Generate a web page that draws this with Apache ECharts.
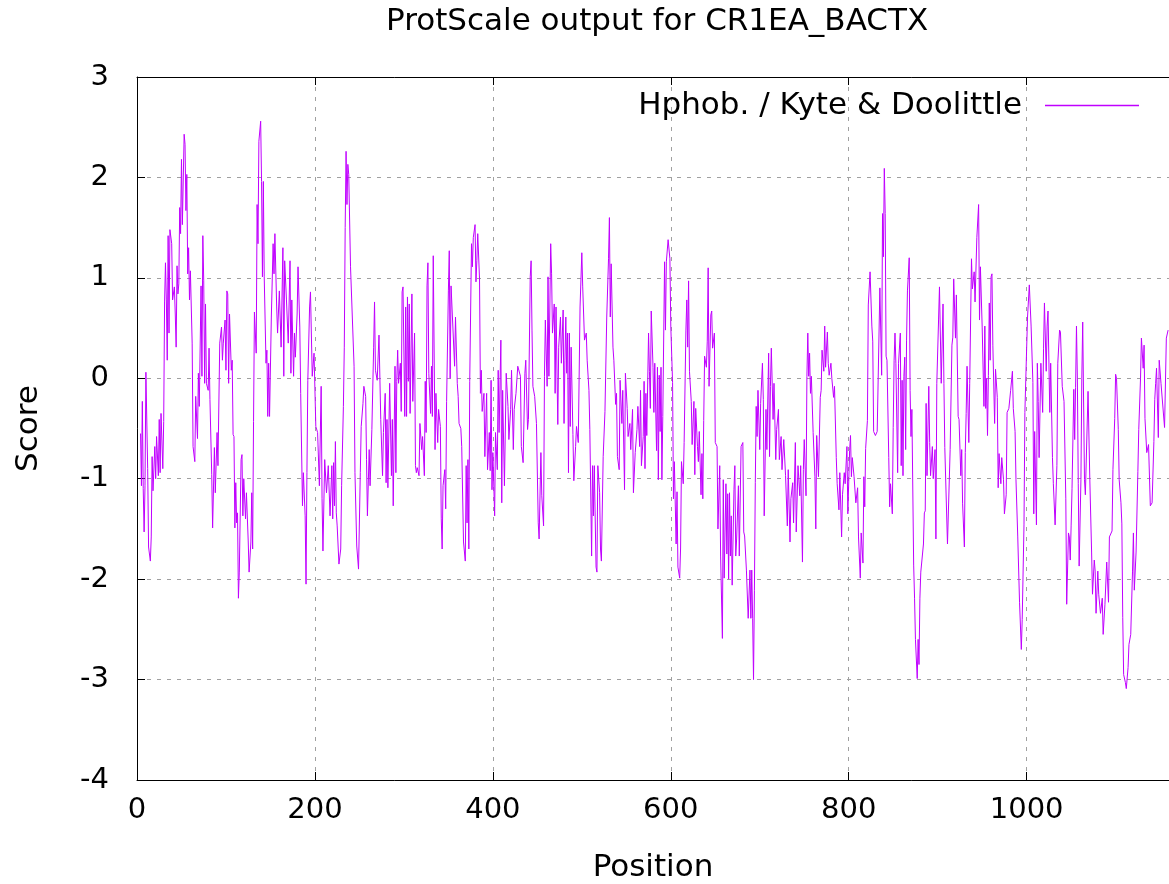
<!DOCTYPE html>
<html><head><meta charset="utf-8">
<script src="https://cdn.jsdelivr.net/npm/echarts@6/dist/echarts.min.js"></script>
<style>html,body{margin:0;padding:0;background:#fff}#c{width:1169px;height:884px}</style>
</head><body><div id="c"></div>
<script>
const chartTitle = 'ProtScale output for CR1EA_BACTX';
const seriesName = 'Hphob. / Kyte & Doolittle';
const xAxisName = 'Position';
const yAxisName = 'Score';
const xRange = [0, 1160];
const yRange = [-4, 3];

// [position, score], in 12 position slices
const seg01 = [[4,-0.55],[5,-1.07],[6,-0.23],[7,-1.1],[8,-1.53],[9,-1.07],[10,0.06],[11,0.06],[12,-0.9],[13,-1.68],[15,-1.82],[16,-1.58],[17,-0.78],[18,-1.12],[20,-0.68],[21,-1.0],[22,-0.58],[24,-0.97],[25,-0.41],[26,-0.94],[27,-0.35],[29,-0.9],[30,-0.43],[31,0.76],[32,1.15],[33,0.78],[34,0.18],[35,1.42],[36,0.45],[37,1.48],[39,1.34],[40,0.78],[42,0.91],[43,0.64],[44,0.31],[45,1.12],[46,0.84],[47,0.94],[48,1.7],[49,1.44],[50,2.18],[51,1.53],[53,2.43],[54,2.33],[55,1.67],[56,2.03],[57,1.04],[58,1.3],[59,0.78],[60,1.07],[62,0.35],[63,-0.68],[65,-0.83],[66,-0.18],[68,-0.6],[69,0.05],[70,-0.28],[72,0.92],[73,0.02],[74,1.42],[75,0.97],[76,-0.05],[77,0.74],[78,-0.05],[80,-0.12],[81,0.3],[82,-0.21],[84,-0.96],[85,-1.49],[87,-0.69],[88,-1.14],[90,-0.54],[91,-0.87],[93,0.35]];
const seg02 = [[95,0.51],[96,0.18],[97,0.35],[99,0.58],[100,0.08],[101,0.87],[102,0.84],[103,-0.05],[104,0.64],[106,0.08],[107,0.18],[108,-0.56],[109,-0.58],[110,-1.49],[111,-1.04],[112,-1.44],[113,-1.34],[114,-2.19],[115,-1.93],[117,-0.81],[118,-0.76],[119,-1.37],[120,-1.0],[122,-1.4],[123,-1.14],[125,-1.62],[126,-1.93],[128,-1.63],[129,-1.14],[130,-1.7],[131,-0.43],[132,0.66],[134,0.25],[135,1.73],[136,1.34],[137,2.36],[139,2.56],[140,1.96],[141,1.01],[142,1.96],[143,1.01],[145,0.15],[146,0.28],[147,-0.38],[148,0.15],[149,-0.38],[151,0.61],[153,1.34],[154,1.04],[155,1.44],[157,0.71],[158,0.45],[160,0.87],[162,0.31],[164,1.3],[165,0.02],[166,1.17],[168,0.78],[170,0.35],[172,1.17],[173,0.05],[174,0.78],[176,0.02],[177,0.45],[178,0.21],[180,0.64],[181,1.11],[183,0.51],[184,-0.15],[186,-1.27],[187,-0.94],[189,-1.37],[190,-2.05],[191,-0.94],[192,-0.02],[194,0.71]];
const seg03 = [[195,0.86],[197,0.02],[199,0.25],[201,-0.48],[203,-0.54],[205,-1.07],[207,-0.08],[208,-1.2],[209,-1.72],[211,-0.81],[213,-1.14],[215,-0.87],[217,-1.37],[219,-0.87],[220,-1.4],[221,-0.84],[222,-1.27],[223,-0.63],[224,-1.34],[225,-1.47],[227,-1.85],[229,-1.7],[230,-1.07],[232,-0.28],[233,0.31],[234,1.5],[235,2.26],[236,1.73],[237,2.13],[238,2.03],[240,1.11],[242,1.11],[244,0.12],[245,-0.94],[247,-1.67],[249,-1.9],[251,-0.94],[252,-0.48],[254,-0.25],[255,-0.08],[257,-0.18],[258,-0.81],[259,-1.37],[261,-0.71],[262,-1.07],[264,-0.51],[266,0.31],[267,0.76],[268,0.08],[270,-0.02],[272,0.43],[274,-0.41],[276,-0.97],[277,-0.54],[279,-0.15],[280,-1.04],[281,-0.41],[282,-1.09],[284,-0.05],[286,-0.97],[287,-0.41],[288,-1.27],[290,0.12]];
const seg04 = [[291,-0.94],[292,-0.03],[293,0.28],[294,-0.05],[296,0.15],[297,-0.33],[298,0.86],[299,0.91],[301,-0.38],[302,0.71],[303,-0.38],[304,0.81],[305,-0.03],[306,0.74],[307,-0.35],[309,0.84],[310,-0.23],[312,0.45],[313,-0.87],[314,-0.94],[315,-0.89],[317,-0.97],[318,-0.45],[320,-0.71],[321,-0.58],[323,-0.97],[324,-0.03],[325,-0.54],[326,0.92],[327,1.15],[328,0.05],[330,-0.35],[331,0.12],[332,-0.38],[333,1.22],[335,-0.71],[336,-0.15],[338,-0.64],[339,-0.31],[341,-0.48],[342,-1.4],[343,-1.7],[344,-1.07],[346,-0.91],[347,-1.3],[348,-0.23],[350,0.87],[351,1.27],[352,0.0],[353,0.92],[355,0.91],[357,0.12],[358,0.61],[360,-0.05],[361,-0.18],[362,-0.45],[363,-0.45],[364,-0.5],[365,-0.68],[367,-1.63],[369,-1.82],[370,-0.87],[371,-1.44],[372,-0.81],[373,-1.7],[374,-0.03],[376,1.34],[377,1.11],[378,1.4],[380,1.53],[381,0.96],[382,1.17],[383,1.44],[385,0.99]];
const seg05 = [[386,-0.15],[387,0.08],[388,-0.33],[390,-0.15],[391,-0.78],[393,-0.15],[394,-0.91],[396,-0.54],[397,-0.92],[398,-0.02],[399,-1.11],[400,-0.74],[402,-1.37],[403,-0.54],[405,-0.91],[406,0.08],[407,-0.54],[409,0.38],[410,-1.24],[411,-0.12],[413,-1.07],[415,0.05],[417,-0.28],[418,-0.61],[420,-0.31],[421,0.08],[423,-0.71],[424,-0.31],[426,-0.15],[428,0.12],[429,0.12],[431,0.02],[432,-0.68],[434,-0.84],[436,0.05],[437,0.18],[439,-0.51],[440,-0.41],[442,1.01],[443,1.17],[444,0.48],[445,-0.08],[447,-0.18],[449,-0.45],[451,-1.44],[452,-1.6],[454,-0.74],[455,-1.17],[457,-1.47],[458,0.02],[459,0.58],[461,-0.08],[462,1.01],[463,0.02],[465,1.34],[466,1.04],[467,0.45],[469,0.74],[470,-0.15],[471,0.71],[473,-0.46],[474,0.31],[476,0.61],[477,0.15],[479,0.68]];
const seg06 = [[480,-0.45],[481,0.18],[482,0.61],[483,0.05],[484,0.45],[485,-0.94],[486,0.45],[487,-0.48],[488,0.31],[490,-0.56],[491,-1.02],[493,-0.68],[494,-0.48],[496,-0.64],[498,0.71],[500,1.25],[501,0.91],[503,0.38],[505,0.45],[506,0.18],[508,-0.12],[509,-0.51],[511,-1.77],[512,-0.87],[513,-1.37],[514,-0.87],[516,-1.88],[517,-1.93],[518,-0.87],[520,-1.14],[521,-1.7],[522,-1.82],[524,-0.78],[526,-0.33],[528,0.61],[530,1.19],[531,1.6],[532,0.61],[533,1.14],[535,0.31],[536,0.18],[538,-0.26],[539,-0.15],[540,-0.78],[542,-0.91],[543,-0.02],[545,-0.45],[546,-0.12],[548,-1.11],[549,0.05],[551,-0.3],[552,-0.58],[554,-0.45],[555,-0.71],[557,-0.31],[558,-1.14],[560,-0.74],[562,-0.51],[563,-0.28],[565,-0.68],[566,-0.12],[567,-0.87],[569,-0.58],[570,-0.03]];
const seg07 = [[571,-0.9],[572,-0.15],[573,-0.57],[575,0.45],[576,0.07],[577,-0.3],[578,0.67],[580,0.11],[581,-0.34],[582,0.15],[584,-0.72],[585,0.11],[586,-1.01],[587,0.03],[588,-0.53],[589,0.11],[590,-1.01],[591,-0.38],[593,1.16],[594,0.48],[595,1.16],[597,1.38],[599,1.19],[600,0.52],[602,-0.04],[603,-1.2],[604,-0.83],[606,-1.65],[607,-1.13],[608,-1.88],[610,-1.99],[611,-1.69],[612,-0.83],[614,-1.05],[615,-0.64],[617,0.48],[618,0.78],[619,0.31],[620,0.97],[621,0.07],[623,-0.23],[624,-0.66],[626,-0.23],[627,-0.96],[628,-0.3],[630,-0.68],[631,-0.83],[632,-0.53],[634,-1.16],[635,-0.75],[636,-1.2],[637,-0.42],[638,0.22],[640,0.11],[641,0.37],[642,1.1],[643,-0.08],[645,0.63],[646,0.67],[647,0.3],[649,0.45],[650,-0.64],[652,-0.68],[653,-1.5],[655,-0.87],[656,-1.77],[658,-2.59],[659,-1.01],[660,-1.99],[662,-1.05],[663,-1.75],[664,-1.15],[665,-2.0]];
const seg08 = [[666,-1.14],[667,-1.77],[668,-1.37],[669,-2.06],[671,-1.11],[672,-0.87],[673,-1.77],[674,-1.6],[676,-1.07],[677,-1.77],[679,-0.68],[681,-0.64],[682,-1.53],[683,-1.57],[685,-1.91],[687,-2.39],[689,-1.91],[690,-2.39],[691,-1.91],[692,-2.39],[693,-3.0],[694,-2.11],[695,-1.04],[696,-0.28],[697,-0.58],[698,-0.12],[700,-0.71],[701,-0.25],[703,0.15],[704,-0.21],[705,-1.37],[707,-0.31],[708,-0.71],[710,0.25],[711,-0.78],[712,-0.08],[713,0.3],[715,-0.41],[716,-0.05],[718,-0.81],[719,-0.51],[721,-0.31],[722,-0.81],[724,-0.58],[725,-0.91],[727,-0.61],[729,-0.97],[731,-1.47],[732,-0.91],[734,-1.63],[735,-1.2],[737,-1.04],[738,-1.44],[740,-0.64],[741,-1.53],[743,-0.87],[745,-1.17],[746,-0.87],[748,-1.83],[749,-0.91],[750,-0.61],[752,-1.17],[753,0.02],[754,0.45],[755,0.02],[756,0.25],[757,-0.15],[758,0.02],[760,-0.54]];
const seg09 = [[762,-0.98],[763,-1.5],[764,-0.57],[766,-0.98],[768,-0.19],[769,-0.12],[770,0.28],[772,0.07],[773,0.52],[774,0.11],[776,0.46],[777,0.15],[778,0.03],[780,0.15],[781,0.0],[783,-0.19],[784,-0.08],[786,-0.79],[787,-1.05],[789,-1.31],[790,-0.94],[792,-1.58],[793,-1.16],[795,-0.94],[796,-1.05],[798,-0.68],[799,-1.35],[801,-0.72],[802,-0.57],[803,-0.98],[804,-0.79],[806,-0.98],[808,-1.24],[810,-1.09],[811,-1.58],[813,-1.99],[814,-1.54],[816,-1.84],[817,-0.98],[818,-1.28],[819,-0.7],[821,-0.42],[822,0.73],[824,1.06],[826,0.52],[827,0.37],[828,-0.53],[830,-0.57],[832,-0.53],[835,0.9],[837,0.03],[838,1.64],[839,1.21],[840,2.09],[841,1.64],[842,0.22],[843,0.18],[845,-0.79],[846,-1.28],[847,-1.05],[849,-1.35],[850,-0.49],[851,0.18],[852,0.45],[853,0.15],[855,-0.94],[856,0.15]];
const seg10 = [[858,0.45],[859,-0.87],[860,-0.02],[861,-0.97],[862,0.02],[863,0.21],[864,-0.71],[865,0.38],[866,0.87],[868,1.2],[869,-0.12],[870,-0.58],[871,-0.31],[873,-1.86],[874,-2.19],[875,-2.6],[877,-2.99],[878,-2.6],[879,-2.85],[880,-2.19],[881,-1.93],[882,-1.93],[884,-1.65],[885,-1.34],[886,-1.32],[887,-0.25],[888,-0.97],[890,-0.08],[891,-0.64],[892,-0.97],[894,-0.68],[895,-1.0],[897,-0.71],[898,-1.6],[899,-0.05],[901,0.59],[902,0.91],[904,-0.05],[906,0.74],[907,-0.05],[908,-0.69],[910,-0.69],[911,-1.65],[913,-1.65],[914,-0.71],[916,0.33],[917,0.41],[918,0.99],[920,0.4],[921,0.83],[923,-0.38],[924,-0.41],[926,-0.97],[927,-0.71],[928,-1.25],[930,-1.68],[931,-0.74],[932,-0.35],[933,0.12],[935,-0.64],[936,-0.05],[938,1.19],[939,0.89],[941,1.06],[942,0.76],[944,1.4],[946,1.73],[947,0.58],[948,1.11],[950,0.51],[952,-0.28]];
const seg11 = [[953,0.52],[954,-0.3],[955,0.0],[956,-0.57],[957,0.03],[958,0.75],[959,0.18],[960,1.01],[961,1.04],[962,0.33],[964,-0.45],[965,0.09],[967,-0.19],[968,-1.09],[969,-0.75],[971,-1.05],[972,-0.79],[974,-1.01],[975,-1.35],[977,-1.16],[978,-0.34],[980,-0.3],[982,-0.12],[984,0.07],[985,-0.3],[987,-0.53],[988,-1.01],[990,-1.58],[992,-2.23],[994,-2.7],[995,-2.4],[997,-1.46],[998,-0.34],[1000,0.3],[1001,0.61],[1003,0.93],[1005,0.52],[1007,-0.04],[1008,-1.35],[1009,-0.53],[1011,-1.46],[1012,0.15],[1013,-0.23],[1014,-0.79],[1016,0.15],[1018,-0.34],[1019,0.3],[1020,0.75],[1022,0.07],[1023,0.52],[1024,0.67],[1026,-0.34],[1027,0.15],[1029,-0.79],[1030,-1.05],[1032,-1.46],[1034,-0.87],[1035,0.15],[1037,0.48],[1038,0.46],[1040,-0.08],[1042,-0.23],[1044,-1.2],[1045,-2.25],[1047,-1.54]];
const seg12 = [[1048,-1.58],[1049,-1.81],[1050,-1.47],[1051,-1.1],[1053,-0.11],[1054,-0.61],[1055,-0.09],[1056,0.52],[1057,0.0],[1058,-1.05],[1059,-1.87],[1061,-1.01],[1062,0.0],[1063,0.56],[1065,-1.01],[1066,-1.16],[1069,-0.13],[1071,-1.01],[1073,-1.73],[1074,-2.15],[1076,-1.81],[1077,-1.92],[1078,-2.34],[1080,-1.92],[1081,-2.15],[1083,-2.34],[1085,-2.19],[1086,-2.55],[1088,-2.25],[1090,-1.83],[1092,-2.23],[1093,-1.58],[1096,-1.52],[1097,-0.91],[1099,-0.4],[1100,0.04],[1101,0.0],[1103,-0.51],[1104,-1.01],[1106,-1.24],[1107,-1.45],[1108,-2.38],[1109,-2.95],[1111,-3.03],[1112,-3.09],[1114,-2.88],[1115,-2.65],[1117,-2.55],[1119,-1.92],[1120,-1.54],[1121,-2.11],[1123,-1.73],[1125,-0.93],[1126,-0.51],[1128,0.0],[1129,0.4],[1131,0.1],[1132,0.33],[1133,-0.4],[1135,-0.74],[1137,-0.66],[1139,-1.27],[1141,-1.24],[1143,-0.63],[1144,-0.21],[1145,-0.05],[1146,0.1],[1148,-0.59],[1149,0.18],[1151,-0.05],[1155,-0.49],[1157,0.4],[1159,0.48]];

const points = [].concat(seg01, seg02, seg03, seg04, seg05, seg06, seg07, seg08, seg09, seg10, seg11, seg12);

const FONT = 'DejaVu Sans';
const FS_TICK = 29;
const FS_TEXT = 31;
const gridDash = { color: '#a0a0a0', width: 1, type: [4, 6] };

const chart = echarts.init(document.getElementById('c'), null, { renderer: 'canvas' });
chart.setOption({
  animation: false,
  backgroundColor: '#ffffff',
  textStyle: { fontFamily: FONT, color: '#000' },
  title: {
    text: chartTitle, left: 381, top: 1,
    textStyle: { fontFamily: FONT, fontSize: FS_TEXT, fontWeight: 'normal', color: '#000' }
  },
  legend: {
    data: [seriesName], right: 25, top: 85, align: 'right', icon: 'rect',
    itemWidth: 94, itemHeight: 1.5, selectedMode: false,
    textStyle: { fontFamily: FONT, fontSize: FS_TEXT, color: '#000', padding: [0, 18, 0, 0] }
  },
  grid: { left: 137, right: 0, top: 77, bottom: 104, containLabel: false, outerBoundsMode: 'none' },
  xAxis: [{
    type: 'value', min: xRange[0], max: xRange[1], interval: 200,
    name: xAxisName, nameLocation: 'middle', nameGap: 72,
    nameTextStyle: { fontFamily: FONT, fontSize: FS_TEXT, color: '#000' },
    axisLine: { show: true, onZero: false, lineStyle: { color: '#000', width: 1 } },
    axisTick: { show: true, inside: true, length: 8, lineStyle: { color: '#000' } },
    axisLabel: { fontFamily: FONT, fontSize: FS_TICK, color: '#000', margin: 16, showMaxLabel: false,
      formatter: v => String(v) },
    splitLine: { show: true, lineStyle: gridDash }
  }, {
    type: 'value', position: 'top', min: xRange[0], max: xRange[1], interval: 200,
    axisLine: { show: true, onZero: false, lineStyle: { color: '#000', width: 1 } },
    axisTick: { show: true, inside: true, length: 8, lineStyle: { color: '#000' } },
    axisLabel: { show: false }, splitLine: { show: false }
  }],
  yAxis: {
    type: 'value', min: yRange[0], max: yRange[1], interval: 1,
    name: yAxisName, nameLocation: 'middle', nameGap: 93, nameRotate: 90,
    nameTextStyle: { fontFamily: FONT, fontSize: FS_TEXT, color: '#000' },
    axisLine: { show: true, onZero: false, lineStyle: { color: '#000', width: 1 } },
    axisTick: { show: true, inside: true, length: 8, lineStyle: { color: '#000' } },
    axisLabel: { fontFamily: FONT, fontSize: FS_TICK, color: '#000', margin: 28 },
    splitLine: { show: true, lineStyle: gridDash }
  },
  series: [{
    name: seriesName, type: 'line', data: points, xAxisIndex: 0,
    showSymbol: false, symbol: 'none', smooth: false,
    lineStyle: { color: '#c000ff', width: 1 }, itemStyle: { color: '#c000ff' },
    clip: true
  }]
});
</script>
</body></html>
